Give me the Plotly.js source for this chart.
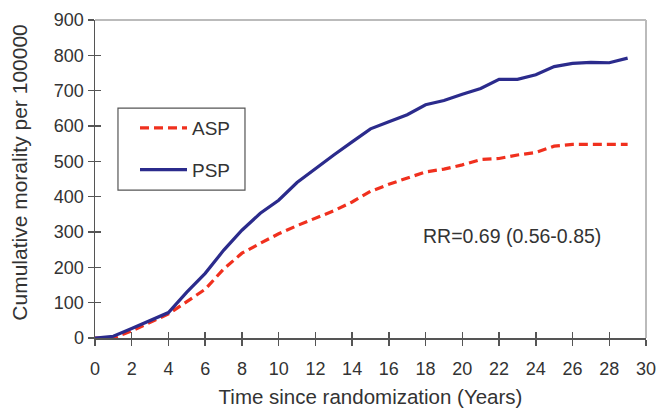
<!DOCTYPE html>
<html>
<head>
<meta charset="utf-8">
<script src="https://cdn.plot.ly/plotly-3.0.1.min.js"></script>
<style>html,body{margin:0;padding:0;background:#fff;}#chart{width:656px;height:408px;}</style>
</head>
<body>
<div id="chart"></div>
<script>
const years = [0,1,2,3,4,5,6,7,8,9,10,11,12,13,14,15,16,17,18,19,20,21,22,23,24,25,26,27,28,29];
const asp = [0,0,20,45,68,103,138,195,240,268,295,318,338,360,385,415,435,452,470,478,490,505,508,518,525,543,548,548,548,548];
const psp = [0,5,27,50,72,130,183,248,305,353,390,440,480,518,555,592,612,632,660,672,690,706,732,732,745,768,777,780,779,792];
const xTicks = [0,2,4,6,8,10,12,14,16,18,20,22,24,26,28,30];
const yTicks = [0,100,200,300,400,500,600,700,800,900];
const seriesNames = ['ASP','PSP'];
const rrText = 'RR=0.69 (0.56-0.85)';
const yTitle = 'Cumulative morality per 100000';
const xTitle = 'Time since randomization (Years)';

const font = 'Liberation Sans, Arial, sans-serif';
const txt = '#333';

const traces = [
  {x: years, y: asp, name: seriesNames[0], mode: 'lines', legendgroup: 'a',
   line: {color: '#f0301e', width: 3.2, dash: '9px,5px'}},
  {x: years, y: psp, name: seriesNames[1], mode: 'lines', legendgroup: 'b',
   line: {color: '#2b2b8c', width: 3.2}},
  {x: [0], y: [0], xaxis: 'x2', yaxis: 'y2', mode: 'markers', marker: {opacity: 0}, showlegend: false, hoverinfo: 'skip'}
];

const layout = {
  width: 656, height: 408,
  margin: {l: 95, r: 10, t: 20, b: 70},
  paper_bgcolor: '#fff', plot_bgcolor: '#fff',
  font: {family: font, color: txt, size: 18},
  showlegend: true,
  legend: {x: 0.0726, y: 0.72, xanchor: 'left', yanchor: 'top',
    borderwidth: 0, bgcolor: 'rgba(0,0,0,0)',
    font: {family: font, size: 19, color: txt},
    traceorder: 'grouped', tracegroupgap: 14, itemwidth: 47},
  xaxis: {range: [0, 30], tickvals: xTicks, ticktext: xTicks.map(String),
    showgrid: false, zeroline: false, showline: true, linecolor: '#555', linewidth: 1.5,
    ticks: 'outside', ticklen: 6, tickwidth: 1.5, tickcolor: '#555', ticklabelstandoff: 8,
    ticklabeloverflow: 'allow',
    tickfont: {family: font, size: 18, color: txt},
    title: {text: xTitle, font: {family: font, size: 20.5, color: txt}, standoff: 13}},
  yaxis: {range: [0, 900], tickvals: yTicks, ticktext: yTicks.map(String),
    showgrid: false, zeroline: false, showline: true, linecolor: '#555', linewidth: 1.5,
    ticks: 'outside', ticklen: 6, tickwidth: 1.5, tickcolor: '#555',
    tickfont: {family: font, size: 18, color: txt}},
  xaxis2: {overlaying: 'x', anchor: 'y', range: [0, 30], tickvals: xTicks, showticklabels: false,
    showgrid: false, zeroline: false, showline: false, ticks: 'inside', ticklen: 6, tickwidth: 1.5, tickcolor: '#555'},
  yaxis2: {overlaying: 'y', anchor: 'x', range: [0, 900], tickvals: yTicks, showticklabels: false,
    showgrid: false, zeroline: false, showline: false, ticks: 'inside', ticklen: 6, tickwidth: 1.5, tickcolor: '#555'},
  shapes: [
    {type: 'line', xref: 'paper', yref: 'paper', x0: 0, x1: 1, y0: 1, y1: 1, line: {color: '#bbb', width: 2}},
    {type: 'line', xref: 'paper', yref: 'paper', x0: 1, x1: 1, y0: 0, y1: 1, line: {color: '#bbb', width: 2}},
    {type: 'rect', xref: 'paper', yref: 'paper', x0: 0.0417, x1: 0.2722, y0: 0.465, y1: 0.723,
     line: {color: '#555', width: 1.2}, fillcolor: 'rgba(0,0,0,0)'}
  ],
  annotations: [
    {x: 0.592, y: 0.32, xref: 'paper', yref: 'paper', xanchor: 'left', yanchor: 'middle',
     text: rrText, showarrow: false, font: {family: font, size: 19.5, color: txt}},
    {x: -0.136, y: 0.52, xref: 'paper', yref: 'paper', xanchor: 'center', yanchor: 'middle',
     textangle: -90, text: yTitle, showarrow: false, font: {family: font, size: 21, color: txt}}
  ]
};

Plotly.newPlot('chart', traces, layout, {staticPlot: true, displayModeBar: false});
</script>
</body>
</html>
